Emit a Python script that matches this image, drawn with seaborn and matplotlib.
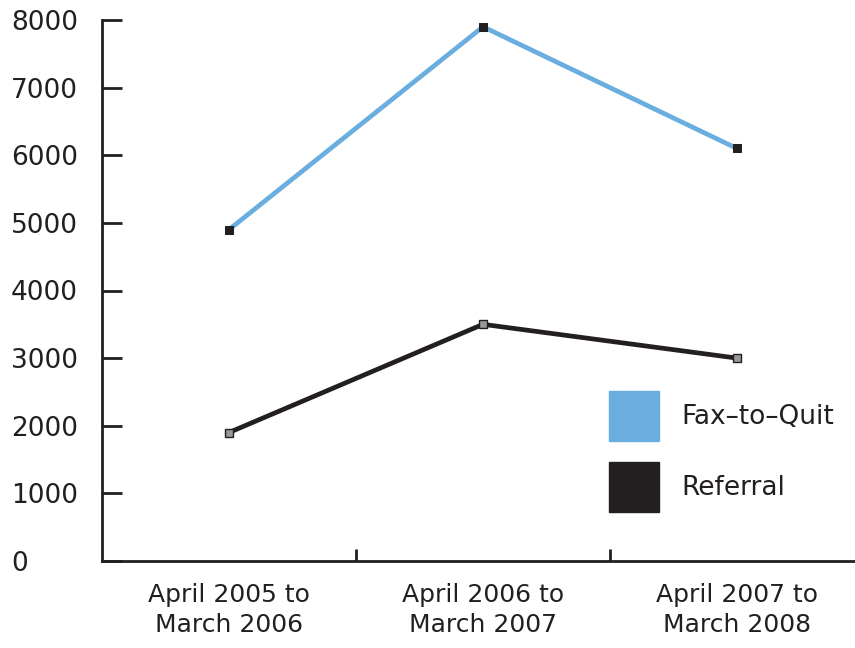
import matplotlib
matplotlib.use("Agg")
import matplotlib.pyplot as plt
from matplotlib.patches import Patch
import seaborn as sns
import pandas as pd

periods = ["April 2005 to\nMarch 2006", "April 2006 to\nMarch 2007", "April 2007 to\nMarch 2008"]
fax_to_quit = [4900, 7900, 6100]
referral = [1900, 3500, 3000]
y_ticks = [0, 1000, 2000, 3000, 4000, 5000, 6000, 7000, 8000]

BLUE = "#6aaee0"
DARK = "#231f20"

sns.set_theme(style="white")
plt.rcParams["font.family"] = ["DejaVu Sans"]

df = pd.DataFrame({
    "pos": list(range(len(periods))) * 2,
    "value": fax_to_quit + referral,
    "series": ["Fax\u2013to\u2013Quit"] * 3 + ["Referral"] * 3,
})

fig = plt.figure(figsize=(8.55, 6.48), dpi=100)
W, H = 855, 648
# axes spans x 102..864 px, y 20..561 px (0..8000)
ax = fig.add_axes([102 / W, 1 - 561 / H, (864 - 102) / W, (561 - 20) / H])

sns.lineplot(data=df[df.series == "Fax\u2013to\u2013Quit"], x="pos", y="value", ax=ax,
             color=BLUE, lw=3.4, marker="s", markersize=5.5,
             markerfacecolor=DARK, markeredgecolor=DARK, legend=False)
sns.lineplot(data=df[df.series == "Referral"], x="pos", y="value", ax=ax,
             color=DARK, lw=3.4, marker="s", markersize=5.5,
             markerfacecolor="#999999", markeredgecolor=DARK, markeredgewidth=1.0,
             legend=False)

ax.set_xlim(-0.5, 2.5)
ax.set_ylim(0, 8000)
ax.set_xlabel("")
ax.set_ylabel("")

for s in ["top", "right"]:
    ax.spines[s].set_visible(False)
for s in ["left", "bottom"]:
    ax.spines[s].set_color(DARK)
    ax.spines[s].set_linewidth(2)

ax.set_yticks(y_ticks)
ax.set_yticklabels([str(v) for v in y_ticks])
ax.tick_params(axis="y", direction="in", length=14.5, width=2, color=DARK,
               labelsize=19, labelcolor=DARK, pad=65.5, left=True)
for lbl in ax.get_yticklabels():
    lbl.set_horizontalalignment("left")

ax.set_xticks(range(len(periods)))
ax.set_xticklabels(periods, linespacing=1.28)
ax.set_xticks([0.5, 1.5], minor=True)
ax.tick_params(axis="x", which="major", length=0, labelsize=18, labelcolor=DARK, pad=16)
ax.tick_params(axis="x", which="minor", direction="in", length=9, width=2,
               color=DARK, bottom=True)

handles = [Patch(facecolor=BLUE, edgecolor=BLUE, label="Fax\u2013to\u2013Quit"),
           Patch(facecolor=DARK, edgecolor=DARK, label="Referral")]
fig.legend(handles=handles, loc="upper left", bbox_to_anchor=(588 / W, 1 - 370 / H),
           frameon=False, fontsize=19, handlelength=1.89, handleheight=2.54,
           handletextpad=0.85, labelspacing=0.8, labelcolor=DARK, borderpad=0.3)

fig.savefig("out.png", dpi=100)
